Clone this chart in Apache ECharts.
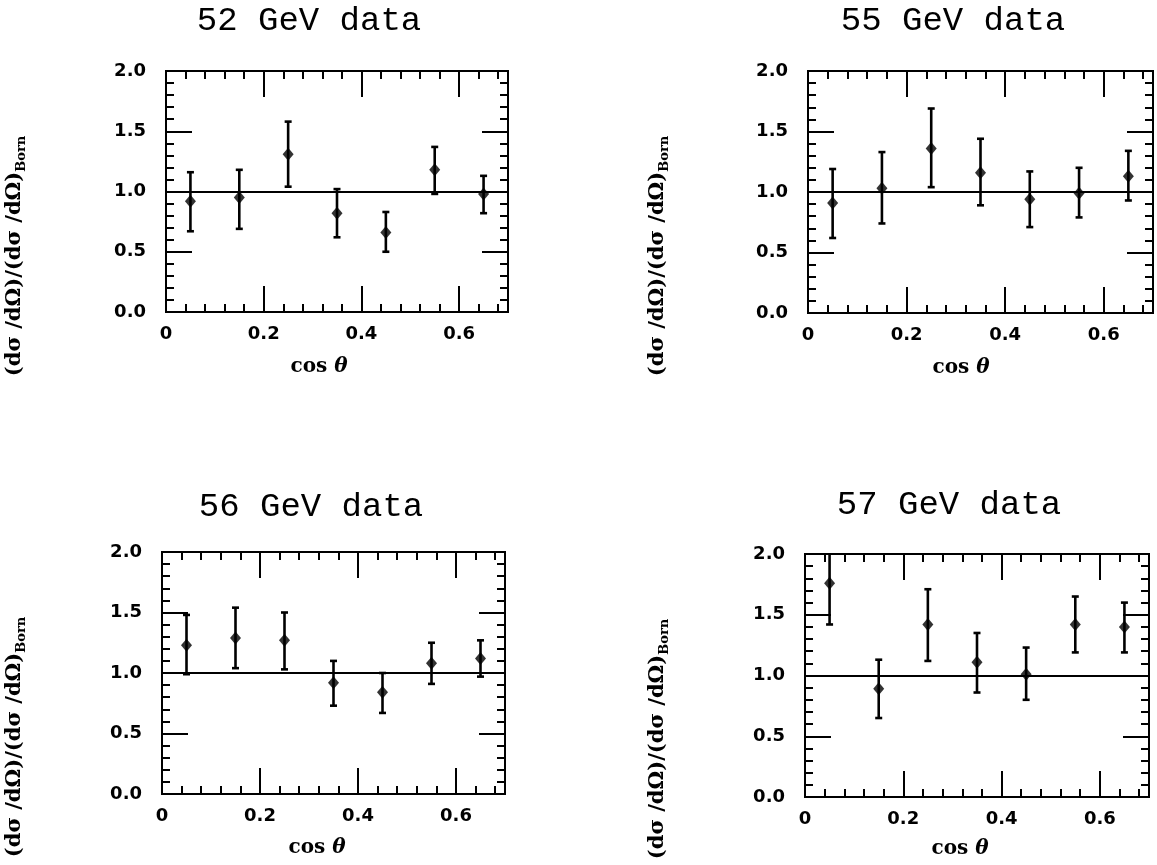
<!DOCTYPE html>
<html>
<head>
<meta charset="utf-8">
<title>Angular distributions, 52–57 GeV</title>
<script src="https://cdn.jsdelivr.net/npm/echarts@6/dist/echarts.min.js"></script>
<style>
  html, body { margin: 0; padding: 0; background: #fff; }
  #chart { width: 1157px; height: 865px; }
</style>
</head>
<body>
<div id="chart"></div>
<script>
// Bin centres in cos(theta)
const xs = [0.05, 0.15, 0.25, 0.35, 0.45, 0.55, 0.65];

// Ratio to Born cross section: central value, lower and upper error bar ends
const val52 = [0.92, 0.95, 1.31, 0.82, 0.66, 1.18, 0.98];
const lo52  = [0.67, 0.69, 1.04, 0.62, 0.50, 0.98, 0.82];
const hi52  = [1.16, 1.18, 1.58, 1.02, 0.83, 1.37, 1.13];

const val55 = [0.91, 1.03, 1.36, 1.16, 0.94, 0.99, 1.13];
const lo55  = [0.62, 0.74, 1.04, 0.89, 0.71, 0.79, 0.93];
const hi55  = [1.19, 1.33, 1.69, 1.44, 1.17, 1.20, 1.34];

const val56 = [1.23, 1.29, 1.27, 0.92, 0.84, 1.08, 1.12];
const lo56  = [0.99, 1.04, 1.03, 0.73, 0.67, 0.91, 0.97];
const hi56  = [1.48, 1.54, 1.50, 1.10, 1.00, 1.25, 1.27];

const val57 = [1.76, 0.89, 1.42, 1.11, 1.01, 1.42, 1.40];
const lo57  = [1.42, 0.65, 1.12, 0.86, 0.80, 1.19, 1.19];
const hi57  = [2.10, 1.13, 1.71, 1.35, 1.23, 1.65, 1.60];

const panelTitles = ['52 GeV data', '55 GeV data', '56 GeV data', '57 GeV data'];
const xTickLabels = { 0: '0', 0.2: '0.2', 0.4: '0.4', 0.6: '0.6' };
const yTickLabels = { 0: '0.0', 0.5: '0.5', 1: '1.0', 1.5: '1.5', 2: '2.0' };
const unityLevel = 1;

const panels = [
  { val: val52, lo: lo52, hi: hi52 },
  { val: val55, lo: lo55, hi: hi55 },
  { val: val56, lo: lo56, hi: hi56 },
  { val: val57, lo: lo57, hi: hi57 }
];

// Plot-area boxes and text anchors for the 2x2 layout
const boxes = [
  { left: 166, top: 71,  width: 342, height: 241 },
  { left: 808, top: 71,  width: 345, height: 242 },
  { left: 162, top: 552, width: 343, height: 242 },
  { left: 805, top: 554, width: 344, height: 243 }
];
const titlePos = [[309, 21], [953, 21], [311, 507], [949, 505]];
const xNamePos = [[319, 367], [961, 368], [317, 848], [960, 849]];
const yNamePos = [[15, 256], [658, 256], [15, 737], [658, 739]];

const BLACK = '#000';
const tickFont = { fontSize: 18, fontWeight: 'bold', fontFamily: 'DejaVu Sans', color: BLACK };

function xAxisDef(grid, position, major) {
  return {
    type: 'value', gridIndex: grid, position: position,
    min: 0, max: 0.7, interval: major ? 0.2 : 0.04,
    axisLine: { show: false, onZero: false },
    splitLine: { show: false },
    axisTick: { show: true, inside: true, length: major ? 26 : 8, lineStyle: { color: BLACK, width: 2 } },
    axisLabel: Object.assign({
      show: major && position === 'bottom', margin: 13, showMaxLabel: false,
      formatter: v => xTickLabels[Math.round(v * 10) / 10] ?? ''
    }, tickFont)
  };
}

function yAxisDef(grid, position, major) {
  return {
    type: 'value', gridIndex: grid, position: position,
    min: 0, max: 2, interval: major ? 0.5 : 0.1,
    axisLine: { show: false, onZero: false },
    splitLine: { show: false },
    axisTick: { show: true, inside: true, length: major ? 26 : 8, lineStyle: { color: BLACK, width: 2 } },
    axisLabel: Object.assign({
      show: major && position === 'left', margin: 20,
      formatter: v => yTickLabels[Math.round(v * 10) / 10] ?? ''
    }, tickFont)
  };
}

// Vertical error bar with short caps; clipped at the top of the frame
function renderErrorBar(params, api) {
  const x = api.value(0), lo = api.value(1), hi = api.value(2);
  const cs = params.coordSys;
  const pLo = api.coord([x, lo]);
  const pHi = api.coord([x, hi]);
  const topY = Math.max(pHi[1], cs.y);
  const cap = 3.5;
  const st = { stroke: BLACK, lineWidth: 2.6 };
  const children = [
    { type: 'line', shape: { x1: pLo[0], y1: pLo[1], x2: pLo[0], y2: topY }, style: st },
    { type: 'line', shape: { x1: pLo[0] - cap, y1: pLo[1], x2: pLo[0] + cap, y2: pLo[1] }, style: st }
  ];
  if (pHi[1] >= cs.y) {
    children.push({ type: 'line', shape: { x1: pHi[0] - cap, y1: pHi[1], x2: pHi[0] + cap, y2: pHi[1] }, style: st });
  }
  return { type: 'group', children: children };
}

const grids = [], xAxes = [], yAxes = [], series = [], graphics = [];

panels.forEach((p, i) => {
  grids.push(Object.assign({
    show: true, borderColor: BLACK, borderWidth: 2, backgroundColor: 'transparent',
    containLabel: false, outerBoundsMode: 'none'
  }, boxes[i]));

  const xi = xAxes.length, yi = yAxes.length;
  xAxes.push(xAxisDef(i, 'bottom', true), xAxisDef(i, 'bottom', false),
             xAxisDef(i, 'top', true), xAxisDef(i, 'top', false));
  yAxes.push(yAxisDef(i, 'left', true), yAxisDef(i, 'left', false),
             yAxisDef(i, 'right', true), yAxisDef(i, 'right', false));

  series.push({
    type: 'custom', xAxisIndex: xi, yAxisIndex: yi,
    renderItem: renderErrorBar,
    encode: { x: 0, y: [1, 2] },
    data: xs.map((x, j) => [x, p.lo[j], p.hi[j]]),
    silent: true, z: 3
  });

  series.push({
    type: 'scatter', xAxisIndex: xi, yAxisIndex: yi,
    symbol: 'diamond', symbolSize: [11, 13],
    itemStyle: { color: BLACK },
    data: xs.map((x, j) => [x, p.val[j]]),
    silent: true, z: 4,
    markLine: {
      silent: true, symbol: ['none', 'none'],
      label: { show: false },
      lineStyle: { color: BLACK, width: 2, type: 'solid' },
      data: [{ yAxis: unityLevel }]
    }
  });

  graphics.push({
    type: 'text', x: titlePos[i][0], y: titlePos[i][1],
    style: {
      text: panelTitles[i], align: 'center', verticalAlign: 'middle',
      fontSize: 34, fontFamily: 'Liberation Mono', fill: BLACK
    }
  });

  graphics.push({
    type: 'text', x: xNamePos[i][0], y: xNamePos[i][1],
    style: {
      text: '{a|cos }{b|θ}', align: 'center', verticalAlign: 'middle',
      rich: {
        a: { fontSize: 20, fontWeight: 'bold', fontFamily: 'DejaVu Serif', fill: BLACK },
        b: { fontSize: 20, fontWeight: 'bold', fontStyle: 'italic', fontFamily: 'DejaVu Serif', fill: BLACK }
      }
    }
  });

  graphics.push({
    type: 'text', x: yNamePos[i][0], y: yNamePos[i][1], rotation: Math.PI / 2,
    style: {
      text: '{m|(dσ /dΩ)/(dσ /dΩ)}{s|Born}', align: 'center', verticalAlign: 'middle',
      rich: {
        m: { fontSize: 21, fontWeight: 'bold', fontFamily: 'DejaVu Serif', fill: BLACK, lineHeight: 26 },
        s: { fontSize: 13, fontWeight: 'bold', fontFamily: 'DejaVu Serif', fill: BLACK, lineHeight: 14, verticalAlign: 'bottom' }
      }
    }
  });
});

const chart = echarts.init(document.getElementById('chart'), null, { renderer: 'canvas' });
chart.setOption({
  animation: false,
  backgroundColor: '#fff',
  grid: grids,
  xAxis: xAxes,
  yAxis: yAxes,
  series: series,
  graphic: graphics
});
</script>
</body>
</html>
